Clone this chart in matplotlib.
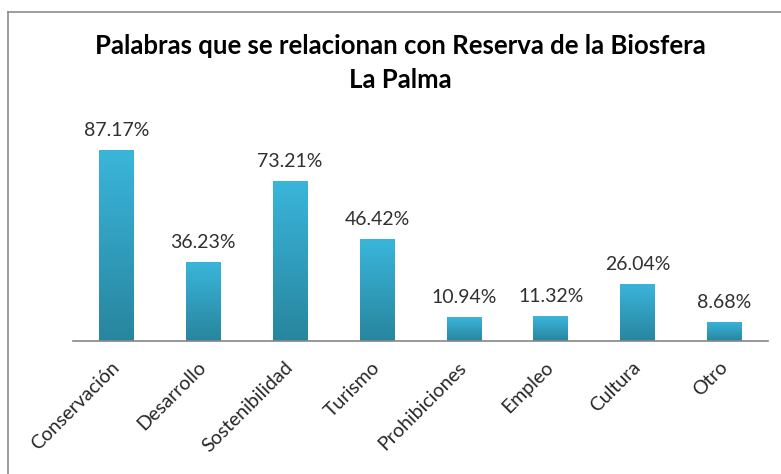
import matplotlib
matplotlib.use("Agg")
import matplotlib.pyplot as plt
from matplotlib.lines import Line2D
import numpy as np

categories = ["Conservación", "Desarrollo", "Sostenibilidad", "Turismo",
              "Prohibiciones", "Empleo", "Cultura", "Otro"]
values = [87.17, 36.23, 73.21, 46.42, 10.94, 11.32, 26.04, 8.68]
labels = ["87.17%", "36.23%", "73.21%", "46.42%", "10.94%", "11.32%", "26.04%", "8.68%"]
title = "Palabras que se relacionan con Reserva de la Biosfera\nLa Palma"

plt.rcParams['font.family'] = ['Lato', 'DejaVu Sans']

W, H = 781, 474
fig = plt.figure(figsize=(W / 100, H / 100), dpi=100)
fig.patch.set_facecolor("white")

ax = fig.add_axes([73 / W, 1 - 341 / H, (768 - 73) / W, 219 / H])
x = np.arange(len(categories))
bars = ax.bar(x, values, width=0.4, facecolor="none", edgecolor="none")
ax.set_xlim(-0.5, len(categories) - 0.5)
ax.set_ylim(0, 100)

top_c = np.array([58, 182, 219]) / 255
bot_c = np.array([40, 133, 158]) / 255
t = np.linspace(0, 1, 256)[:, None]
grad = (top_c[None, :] * (1 - t) + bot_c[None, :] * t)[:, None, :]

for b, lab in zip(bars, labels):
    x0, w, h = b.get_x(), b.get_width(), b.get_height()
    im = ax.imshow(grad, extent=[x0, x0 + w, 0, h], aspect="auto",
                   origin="upper", zorder=2, interpolation="bilinear")
    im.set_clip_path(b)
    ax.annotate(lab, (x0 + w / 2, h), xytext=(0, 8), textcoords="offset points",
                ha="center", va="bottom", fontsize=14, color="#303030")

ax.set_xticks(x)
ax.set_xticklabels(categories, rotation=45, ha="right", va="center",
                   rotation_mode="anchor", fontsize=14, color="#262626")
ax.tick_params(axis="x", length=0, pad=17)
ax.set_yticks([])
for s in ["top", "right", "left"]:
    ax.spines[s].set_visible(False)
ax.spines["bottom"].set_color("#868686")
ax.spines["bottom"].set_linewidth(1.2)
ax.set_xlim(-0.5, len(categories) - 0.5)

fig.text(400 / W, 1 - 63 / H, title, ha="center", va="center",
         fontsize=18.5, fontweight="bold", color="black", linespacing=1.45)

yb = 1 - 12 / H
xb = 8 / W
fig.add_artist(Line2D([xb, 1], [yb, yb], color="#8c8c8c", lw=1.2, transform=fig.transFigure))
fig.add_artist(Line2D([xb, xb], [0, yb], color="#8c8c8c", lw=1.2, transform=fig.transFigure))

fig.savefig("out.png", dpi=100)
